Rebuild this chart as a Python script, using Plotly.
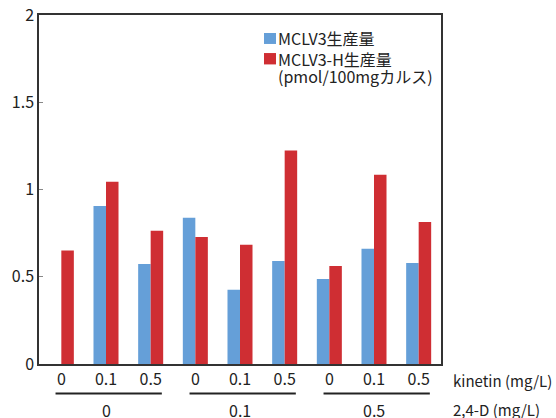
import plotly.graph_objects as go

kinetin_labels = ["0", "0.1", "0.5", "0", "0.1", "0.5", "0", "0.1", "0.5"]
d24_groups = ["0", "0.1", "0.5"]
mclv3 = [0, 0.905, 0.573, 0.838, 0.426, 0.59, 0.487, 0.661, 0.579]
mclv3_h = [0.651, 1.044, 0.764, 0.728, 0.684, 1.223, 0.562, 1.084, 0.814]
y_ticks = [0, 0.5, 1, 1.5, 2]
y_ticktext = ["0", "0.5", "1", "1.5", "2"]
series_names = ["MCLV3生産量", "MCLV3-H生産量", "(pmol/100mgカルス)"]
blue = "#659FD8"
red = "#CF2E33"
FONT = "Noto Sans CJK JP"
FS = 16
xs = list(range(len(kinetin_labels)))

fig = go.Figure()
fig.add_trace(go.Bar(x=xs, y=mclv3, marker=dict(color=blue, line=dict(width=0)), name=series_names[0]))
fig.add_trace(go.Bar(x=xs, y=mclv3_h, marker=dict(color=red, line=dict(width=0)), name=series_names[1]))

fig.update_layout(
    width=556, height=418,
    margin=dict(l=39, r=115, t=15, b=54, autoexpand=False),
    paper_bgcolor="white", plot_bgcolor="white",
    barmode="group", bargap=0.44, bargroupgap=0,
    showlegend=False,
    font=dict(family=FONT, size=FS, color="#222"),
    xaxis=dict(range=[-0.5, 8.5], tickvals=xs, ticktext=kinetin_labels,
               showline=True, linecolor="#333", linewidth=1.5, mirror=True,
               showgrid=False, zeroline=False, ticks="", automargin=False),
    yaxis=dict(range=[0, 2], tickvals=y_ticks, ticktext=y_ticktext,
               showline=True, linecolor="#333", linewidth=1.5, mirror=True,
               showgrid=False, zeroline=False, ticks="inside", ticklen=4,
               tickcolor="#888", tickwidth=1, automargin=False),
)

# group underlines and labels
for gi, g in enumerate(d24_groups):
    s = gi * 3
    fig.add_shape(type="line", xref="x", yref="paper",
                  x0=s - 0.13, x1=s + 2.25, y0=-0.0844, y1=-0.0844,
                  line=dict(color="#222", width=2))
    fig.add_annotation(x=s + 1, y=0, xref="x", yref="y", yshift=-45.5,
                       text=g, showarrow=False, yanchor="middle",
                       font=dict(family=FONT, size=FS, color="#222"))

fig.add_annotation(x=1.026, y=0, xref="paper", yref="y", yshift=-16.5, xanchor="left",
                   yanchor="middle", text="kinetin (mg/L)", showarrow=False,
                   font=dict(family=FONT, size=15, color="#222"))
fig.add_annotation(x=1.026, y=0, xref="paper", yref="y", yshift=-45.5, xanchor="left",
                   yanchor="middle", text="2,4-D (mg/L)", showarrow=False,
                   font=dict(family=FONT, size=15, color="#222"))

# manual legend
fig.add_shape(type="rect", xref="paper", yref="paper", x0=0.5597, x1=0.5896, y0=0.917, y1=0.9485,
              fillcolor=blue, line=dict(width=0))
fig.add_shape(type="rect", xref="paper", yref="paper", x0=0.5597, x1=0.5896, y0=0.8584, y1=0.891,
              fillcolor=red, line=dict(width=0))
for txt, yy in zip(series_names, [0.933, 0.873, 0.825]):
    fig.add_annotation(x=0.590, y=yy, xref="paper", yref="paper", xanchor="left", yanchor="middle",
                       text=txt, showarrow=False,
                       font=dict(family=FONT, size=FS, color="#222"))

fig.write_html("out.html", config={"displayModeBar": False},
               post_script="document.body.style.margin='0px';")
